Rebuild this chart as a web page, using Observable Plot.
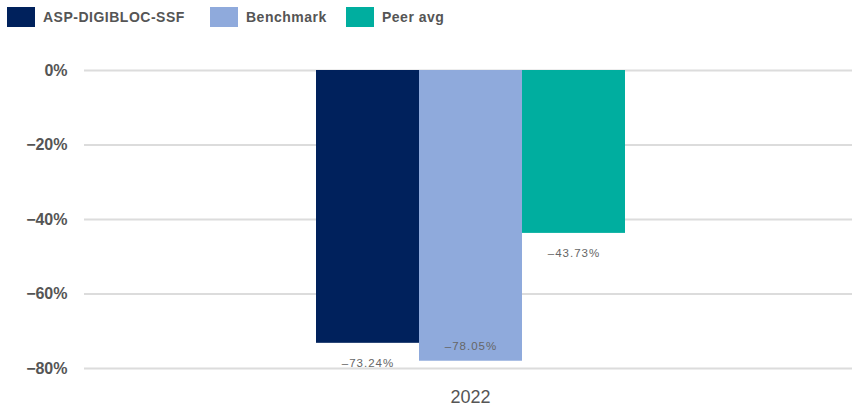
<!DOCTYPE html>
<html>
<head>
<meta charset="utf-8">
<script src="https://cdn.jsdelivr.net/npm/d3@7"></script>
<script src="https://cdn.jsdelivr.net/npm/@observablehq/plot@0.6"></script>
<style>
  html, body { margin: 0; padding: 0; background: #fff; }
  body { width: 852px; height: 409px; overflow: hidden; font-family: Arial, "Liberation Sans", sans-serif; }
  #legend { height: 40px; position: relative; }
  .item { position: absolute; top: 7px; display: flex; align-items: center; font-size: 14px; font-weight: bold; color: #555; letter-spacing: 0.5px; }
  .sw { width: 28px; height: 20px; margin-right: 8px; }
  .vlabel text { letter-spacing: 1px; }
</style>
</head>
<body>
<div id="legend"></div>
<div id="chart"></div>
<script>
const categories = ["2022"];
const seriesNames = ["ASP-DIGIBLOC-SSF", "Benchmark", "Peer avg"];
const values = [-73.24, -78.05, -43.73];
const colors = ["#00215c", "#8faadc", "#00ae9f"];
const yTicks = [0, -20, -40, -60, -80];

const data = seriesNames.map((s, i) => ({series: s, value: values[i], year: categories[0]}));

// legend
const legend = document.getElementById("legend");
const legendX = [7, 210, 346];
seriesNames.forEach((s, i) => {
  const el = document.createElement("div");
  el.className = "item";
  el.style.left = legendX[i] + "px";
  el.innerHTML = `<span class="sw" style="background:${colors[i]}"></span><span>${s}</span>`;
  legend.appendChild(el);
});

const fmt = v => "\u2013" + Math.abs(v).toFixed(2) + "%";
const chart = Plot.plot({
  width: 852,
  height: 369,
  marginLeft: 84,
  marginRight: 0,
  marginTop: 30,
  marginBottom: 41,
  style: {fontFamily: "Arial, 'Liberation Sans', sans-serif", background: "#fff"},
  x: {domain: seriesNames, range: [316, 625], padding: 0, axis: null},
  y: {domain: [-80, 0], ticks: yTicks, axis: null, label: null},
  color: {domain: seriesNames, range: colors},
  marks: [
    Plot.ruleY(yTicks, {stroke: "#dcdcdc", strokeWidth: 2}),
    Plot.axisY({ticks: yTicks, tickSize: 0, tickPadding: 17, label: null,
      tickFormat: d => (d === 0 ? "0" : "\u2212" + Math.abs(d)) + "%",
      fontSize: 16, fontWeight: "bold", fill: "#555", textAnchor: "end"}),
    Plot.barY(data, {x: "series", y1: 0, y2: "value", fill: "series", inset: 0}),
    Plot.text(data.filter(d => d.value > -76), {x: "series", y: "value", text: d => fmt(d.value), dy: 20,
      fontSize: 11.5, fill: "#666", className: "vlabel"}),
    Plot.text(data.filter(d => d.value <= -76), {x: "series", y: "value", text: d => fmt(d.value), dy: -15,
      fontSize: 11.5, fill: "#666", className: "vlabel"}),
    Plot.text(categories, {text: d => d, frameAnchor: "bottom", dx: 2, dy: 34, fontSize: 18, fill: "#555"})
  ]
});
document.getElementById("chart").appendChild(chart);
</script>
</body>
</html>
